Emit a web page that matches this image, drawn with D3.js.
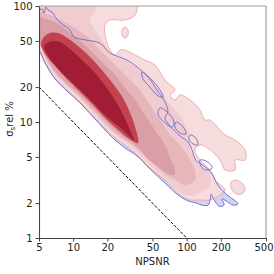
<!DOCTYPE html>
<html><head><meta charset="utf-8">
<script src="https://cdn.jsdelivr.net/npm/d3@7"></script>
<style>html,body{margin:0;padding:0;background:#fff;} svg{display:block;font-family:"DejaVu Sans",sans-serif;}</style>
</head><body>
<svg id="c" width="274" height="274"></svg>
<script>
// ---- data (NPSNR, sigma_s rel %) ----
const xTicks = [5, 10, 20, 50, 100, 200, 500];
const yTicks = [1, 2, 5, 10, 20, 50, 100];
const refNPSNR = [5, 100];
const refSigma = [20, 1];

// density contour levels (outermost -> innermost)
const level1Main = [[4.5,120],[35.1,120],[35.1,83.6],[28.6,75.7],[21.1,75.7],[19.1,68.6],[19.1,56.2],[21.1,41.7],[23.4,37.8],[25.9,41.7],[28.6,41.7],[35.1,37.8],[42.9,34.2],[52.6,31.0],[64.4,23.0],[78.9,18.9],[71.4,17.1],[78.9,15.5],[87.4,17.1],[107,15.5],[131,12.7],[145,10.4],[161,10.4],[197,8.53],[218,7.73],[267,7.00],[327,5.74],[327,4.70],[267,4.70],[267,3.86],[218,3.86],[197,4.70],[161,5.74],[131,6.34],[118,5.74],[131,4.70],[161,3.86],[178,3.16],[218,2.59],[197,2.35],[161,2.13],[131,2.13],[107,2.13],[87.4,2.35],[64.4,3.16],[47.5,4.01],[35.1,5.41],[28.6,6.34],[23.4,7.28],[15.6,10.8],[11.5,14.9],[8.47,19.6],[6.92,23.9],[5.65,32.9],[5.0,42.6],[4.5,46]];
const level1IslandA = [[28.6,65.9],[30.4,62.1],[30.4,56.2],[28.6,52.9],[27.0,56.2],[27.0,62.1]];
const level1IslandB = [[246,3.04],[272,3.16],[307,2.98],[327,2.69],[314,2.44],[278,2.39],[251,2.59]];
const level2 = [[4.5,120],[17.2,120],[15.6,92.4],[14.1,75.7],[15.6,62.1],[18.3,48.9],[22.4,37.0],[28.6,34.2],[38.8,28.1],[47.5,23.0],[58.2,18.9],[71.4,14.0],[87.4,11.5],[96.6,9.42],[107,7.00],[107,5.74],[131,4.26],[161,3.49],[161,2.86],[145,2.59],[118,2.35],[96.6,2.35],[78.9,2.69],[64.4,3.29],[47.5,4.26],[35.1,5.74],[28.6,6.73],[23.4,7.73],[15.6,11.5],[11.5,15.8],[8.47,20.8],[6.92,25.4],[5.65,34.9],[5.0,45.2],[4.5,48]];
const level3 = [[4.5,88.8],[6.25,83.6],[7.66,75.7],[9.38,68.6],[12.7,56.2],[17.2,41.7],[23.4,31.0],[31.7,23.0],[38.8,18.9],[47.5,14.0],[58.2,10.4],[71.4,7.73],[87.4,6.34],[107,4.70],[118,3.86],[118,3.16],[96.6,2.86],[78.9,3.16],[58.2,3.86],[47.5,4.70],[35.1,6.09],[28.6,7.00],[23.4,8.04],[15.6,12.0],[11.5,16.4],[8.47,21.7],[6.92,26.5],[5.65,36.3],[5.0,47.0],[4.5,52]];
const level4 = [[4.5,78.8],[6.25,75.7],[7.66,68.6],[9.38,58.5],[12.7,46.1],[17.2,34.2],[23.4,25.4],[28.6,19.6],[35.1,15.5],[42.9,11.5],[52.6,8.53],[64.4,6.34],[71.4,4.90],[78.9,3.86],[77.4,3.49],[68.4,3.57],[58.2,4.01],[47.5,4.61],[35.1,6.34],[28.6,7.28],[23.4,8.53],[15.6,12.7],[11.5,17.1],[8.47,22.5],[6.92,27.5],[5.65,37.8],[5.0,48.9],[4.5,54]];
const level5 = [[5.20,47.0],[5.53,54.0],[6.25,58.5],[7.35,58.5],[8.64,54.0],[11.03,45.2],[14.1,36.3],[17.9,28.1],[22.9,20.8],[28.1,15.5],[32.3,11.5],[35.8,8.53],[37.3,6.59],[30.4,7.28],[24.9,8.53],[19.5,10.6],[14.7,14.3],[11.03,18.9],[8.64,23.9],[7.06,29.8],[6.00,35.6],[5.42,41.7]];
const level6 = [[5.53,44.3],[5.88,47.9],[6.64,49.9],[7.66,48.9],[9.38,42.6],[11.98,34.2],[15.3,27.0],[19.5,20.0],[23.9,14.9],[28.1,11.05],[31.7,8.53],[34.4,6.86],[30.4,7.73],[24.9,9.23],[19.5,11.27],[14.7,14.9],[11.03,19.6],[8.31,25.4],[6.78,31.6],[5.88,38.5]];

// second (blue) distribution: outer contour and inner loops
const blueOuter = [[4.5,81.9],[5.31,94.2],[5.53,87.0],[5.77,98.0],[6.00,92.4],[6.51,88.8],[7.06,78.8],[7.98,69.9],[9.38,62.1],[10.17,54.0],[12.96,50.9],[17.2,47.9],[21.1,39.3],[29.8,34.2],[36.6,29.8],[42.9,26.0],[49.5,22.1],[55.9,18.2],[63.1,15.5],[68.4,12.2],[64.4,10.83],[71.4,9.23],[87.4,7.58],[102.7,6.73],[111.4,5.74],[120.4,4.70],[142.1,4.17],[167.7,3.57],[181.6,3.04],[197,2.69],[222.5,2.39],[261.4,2.13],[283.8,1.97],[256.1,1.92],[222.5,2.09],[205.2,2.17],[213.7,1.92],[193.1,1.88],[174.6,2.13],[164.3,2.39],[161,2.13],[154.1,1.92],[136.4,1.92],[120.4,2.01],[102.7,2.09],[83.9,2.35],[64.4,2.98],[47.5,3.94],[36.6,5.10],[28.6,5.97],[22.4,7.28],[15.6,10.6],[11.5,14.6],[8.82,18.5],[6.92,23.5],[5.65,32.2],[5.0,40.9],[4.5,41.7]];
const blueLoopA = [[40.4,27.0],[49.5,23.0],[58.2,18.9],[61.9,16.4],[55.9,16.8],[47.5,20.0],[41.2,23.5]];
const blueLoopB = [[58.2,13.2],[68.4,12.0],[77.4,10.0],[74.4,9.05],[63.1,10.0],[55.9,11.7]];
const blueLoopC = [[80.5,10.0],[94.8,8.87],[98.6,7.88],[87.4,8.04],[78.9,9.05]];
const blueLoopD = [[107,7.73],[120.4,7.28],[125.4,6.34],[113.7,6.47],[104.8,7.14]];
const blueLoopE = [[131,4.70],[154.1,4.52],[167.7,4.01],[148,3.86],[133.7,4.17]];

// ---- drawing ----
const W = 274, H = 274;
const m = {l: 39, r: 8, t: 6, b: 36};
const svg = d3.select("#c");
const x = d3.scaleLog().domain([5, 500]).range([m.l, W - m.r]);
const y = d3.scaleLog().domain([1, 100]).range([H - m.b, m.t]);

svg.append("defs").append("clipPath").attr("id", "clip")
  .append("rect").attr("x", m.l).attr("y", m.t)
  .attr("width", W - m.r - m.l).attr("height", H - m.b - m.t);

const g = svg.append("g").attr("clip-path", "url(#clip)");
const area = d3.line().x(d => x(d[0])).y(d => y(d[1]))
  .curve(d3.curveCatmullRomClosed.alpha(0.5));

// blue fill underneath
g.append("path").attr("d", area(blueOuter)).attr("fill", "#d3d3f1").attr("stroke", "none");

const fills = [
  {pts: level1Main, fill: "#f7dcdd"},
  {pts: level1IslandA, fill: "#f7dcdd"},
  {pts: level1IslandB, fill: "#f7dcdd"},
  {pts: level2, fill: "#f0ccd0"},
  {pts: level3, fill: "#e6b6bb"},
  {pts: level4, fill: "#da9fa6"},
  {pts: level5, fill: "#c2434f"},
  {pts: level6, fill: "#a11c35"}
];
fills.forEach(f => g.append("path").attr("d", area(f.pts)).attr("fill", f.fill).attr("stroke", "none"));

[level1Main, level1IslandA, level1IslandB].forEach(p =>
  g.append("path").attr("d", area(p)).attr("fill", "none").attr("stroke", "#e79ea3").attr("stroke-width", 0.8));

[blueOuter, blueLoopA, blueLoopB, blueLoopC, blueLoopD, blueLoopE].forEach(p =>
  g.append("path").attr("d", area(p)).attr("fill", "none").attr("stroke", "#6a6ac8").attr("stroke-width", 0.9));

// reference dashed line
const refLine = d3.line().x(d => x(d[0])).y(d => y(d[1]));
g.append("path").attr("d", refLine(refNPSNR.map((v, i) => [v, refSigma[i]])))
  .attr("fill", "none").attr("stroke", "#000").attr("stroke-width", 1).attr("stroke-dasharray", "3,1.6");

// spines top/right
svg.append("line").attr("x1", m.l).attr("x2", W - m.r).attr("y1", m.t).attr("y2", m.t).attr("stroke", "#a0a0a0").attr("stroke-width", 1.2);
svg.append("line").attr("x1", W - m.r).attr("x2", W - m.r).attr("y1", m.t).attr("y2", H - m.b).attr("stroke", "#a0a0a0").attr("stroke-width", 1.2);

// axes
const xa = svg.append("g").attr("transform", `translate(0,${H - m.b})`)
  .call(d3.axisBottom(x).tickValues(xTicks).tickFormat(d3.format("d")).tickSize(3.5).tickSizeOuter(0).tickPadding(2));
const ya = svg.append("g").attr("transform", `translate(${m.l},0)`)
  .call(d3.axisLeft(y).tickValues(yTicks).tickFormat(d3.format("d")).tickSize(3.5).tickSizeOuter(0).tickPadding(3));
[xa, ya].forEach(a => {
  a.selectAll("text").style("font-family", "DejaVu Sans, sans-serif").style("font-size", "10px").attr("fill", "#222");
  a.selectAll("line").attr("stroke", "#444");
  a.select(".domain").attr("stroke", "#444").attr("stroke-width", 1.1);
});
// keep the last x label inside the window
xa.selectAll(".tick").filter(d => d === 500).select("text").attr("dx", -2.5);

svg.append("text").attr("x", (m.l + W - m.r) / 2).attr("y", 265).attr("text-anchor", "middle")
  .style("font-size", "10px").attr("fill", "#222").text("NPSNR");

const yl = svg.append("text").attr("transform", "translate(12.5,119) rotate(-90)")
  .attr("text-anchor", "middle").style("font-size", "10px").attr("fill", "#222");
yl.append("tspan").text("σ");
yl.append("tspan").attr("dy", 2.5).style("font-size", "7px").text("s");
yl.append("tspan").attr("dy", -2.5).text("rel %");
</script>
</body></html>
